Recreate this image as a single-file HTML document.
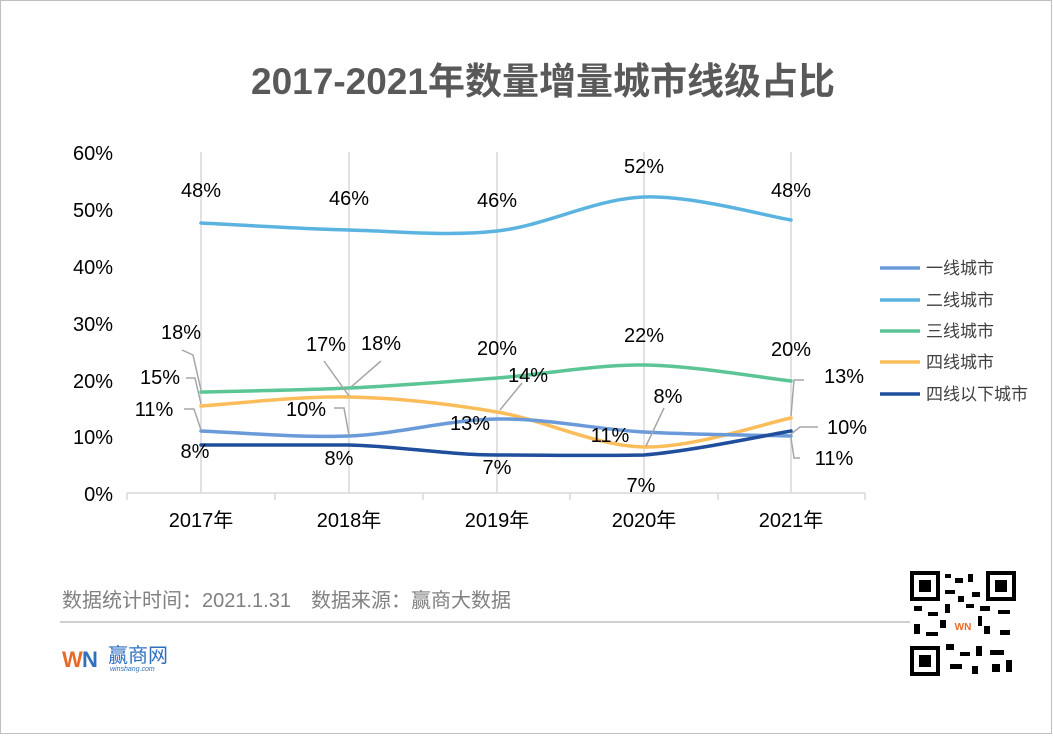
<!DOCTYPE html><html><head><meta charset="utf-8"><style>
body{margin:0;background:#fff}
svg text{font-family:"Liberation Sans","Noto Sans CJK SC",sans-serif}
</style></head><body>
<svg width="1053" height="735" xmlns="http://www.w3.org/2000/svg">
<rect x="0.5" y="0.5" width="1051" height="733" fill="#fff" stroke="#bfbfbf"/>
<text x="543" y="94" text-anchor="middle" font-size="37" font-weight="bold" fill="#595959">2017-2021年数量增量城市线级占比</text>
<g stroke="#d9d9d9" stroke-width="1.5">
<line x1="201" y1="152" x2="201" y2="493"/><line x1="349" y1="152" x2="349" y2="493"/><line x1="497" y1="152" x2="497" y2="493"/><line x1="644" y1="152" x2="644" y2="493"/><line x1="791" y1="152" x2="791" y2="493"/>
<line x1="127" y1="493" x2="865" y2="493"/>
<line x1="127" y1="493" x2="127" y2="500"/><line x1="275" y1="493" x2="275" y2="500"/><line x1="423" y1="493" x2="423" y2="500"/><line x1="570" y1="493" x2="570" y2="500"/><line x1="718" y1="493" x2="718" y2="500"/><line x1="865" y1="493" x2="865" y2="500"/>
</g>
<g font-size="20" fill="#000" text-anchor="end">
<text x="113" y="160">60%</text><text x="113" y="217">50%</text><text x="113" y="274">40%</text><text x="113" y="331">30%</text><text x="113" y="388">20%</text><text x="113" y="444">10%</text><text x="113" y="501">0%</text>
</g>
<g font-size="20" fill="#000" text-anchor="middle">
<text x="201" y="527">2017年</text><text x="349" y="527">2018年</text><text x="497" y="527">2019年</text><text x="644" y="527">2020年</text><text x="791" y="527">2021年</text>
</g>
<g fill="none" stroke-width="3.5" stroke-linecap="round">
<path stroke="#5bb4e0" d="M201,223 C225.7,224.2 299.7,228.7 349,230 C398.3,231.3 447.8,236.5 497,231 C546.2,225.5 595,198.8 644,197 C693,195.2 766.5,216.2 791,220"/>
<path stroke="#5cc596" d="M201,392 C225.7,391.3 299.7,390.3 349,388 C398.3,385.7 447.8,381.8 497,378 C546.2,374.2 595,364.5 644,365 C693,365.5 766.5,378.3 791,381"/>
<path stroke="#fbbd5a" d="M201,406 C225.7,404.5 299.7,396 349,397 C398.3,398 447.8,403.7 497,412 C546.2,420.3 595,446 644,447 C693,448 766.5,422.8 791,418"/>
<path stroke="#6a9ad8" d="M201,431 C225.7,431.8 299.7,438 349,436 C398.3,434 447.8,419.7 497,419 C546.2,418.3 595,429.2 644,432 C693,434.8 766.5,435.3 791,436"/>
<path stroke="#1f4e9c" d="M201,445 C250,445 300,445 349,445 C398,446 447,455 497,455 C546,455 595,456 644,455 C693,451 766.5,435 791,431"/>
</g>
<g stroke="#a6a6a6" stroke-width="1.5" fill="none">
<polyline points="182,350 193,355 201,390"/>
<polyline points="186,378 195,378 201,404"/>
<polyline points="184,409 194,409 201,430"/>
<polyline points="324,361 349,396"/>
<polyline points="381,361 351,387"/>
<polyline points="334,408 344,408 349,435"/>
<polyline points="522,383 500,410"/>
<polyline points="664,408 646,446"/>
<polyline points="804,380 794,380 791,416"/>
<polyline points="818,427 800,427 791,434"/>
<polyline points="800,458 794,458 791,438"/>
</g>
<g font-size="20" fill="#000" text-anchor="middle">
<text x="201" y="197">48%</text><text x="349" y="205">46%</text><text x="497" y="207">46%</text><text x="644" y="173">52%</text><text x="791" y="197">48%</text>
<text x="181" y="339">18%</text><text x="160" y="384">15%</text><text x="154" y="416">11%</text><text x="195" y="458">8%</text>
<text x="326" y="351">17%</text><text x="381" y="350">18%</text><text x="306" y="416">10%</text><text x="339" y="465">8%</text>
<text x="497" y="355">20%</text><text x="528" y="382">14%</text><text x="470" y="430">13%</text><text x="497" y="474">7%</text>
<text x="644" y="342">22%</text><text x="668" y="403">8%</text><text x="610" y="442">11%</text><text x="641" y="492">7%</text>
<text x="791" y="356">20%</text><text x="844" y="383">13%</text><text x="847" y="434">10%</text><text x="834" y="465">11%</text>
</g>
<g font-size="17" fill="#404040">
<line x1="880" y1="268" x2="920" y2="268" stroke="#6a9ad8" stroke-width="3.5"/><text x="926" y="274">一线城市</text>
<line x1="880" y1="300" x2="920" y2="300" stroke="#5bb4e0" stroke-width="3.5"/><text x="926" y="306">二线城市</text>
<line x1="880" y1="331" x2="920" y2="331" stroke="#5cc596" stroke-width="3.5"/><text x="926" y="337">三线城市</text>
<line x1="880" y1="362" x2="920" y2="362" stroke="#fbbd5a" stroke-width="3.5"/><text x="926" y="368">四线城市</text>
<line x1="880" y1="394" x2="920" y2="394" stroke="#1f4e9c" stroke-width="3.5"/><text x="926" y="400">四线以下城市</text>
</g>
<text x="62" y="607" font-size="20" fill="#808080">数据统计时间：2021.1.31　数据来源：赢商大数据</text>
<line x1="60" y1="622" x2="1000" y2="622" stroke="#d0d0d0" stroke-width="2"/>
<text x="62" y="667" font-size="22" font-weight="bold" fill="#e86a2a">W</text>
<text x="82" y="667" font-size="22" font-weight="bold" fill="#2f6fc0">N</text>
<text x="108" y="662" font-size="20" fill="#2f6fc0">赢商网</text>
<text x="110" y="671" font-size="7" fill="#2f6fc0" font-style="italic">winshang.com</text>
<g>
<rect x="910" y="572" width="106" height="104" fill="#fff"/>
<rect x="912" y="573" width="26" height="26" fill="none" stroke="#000" stroke-width="4"/><rect x="919" y="580" width="12" height="12"/>
<rect x="988" y="573" width="26" height="26" fill="none" stroke="#000" stroke-width="4"/><rect x="995" y="580" width="12" height="12"/>
<rect x="912" y="648" width="26" height="26" fill="none" stroke="#000" stroke-width="4"/><rect x="919" y="655" width="12" height="12"/>
<g fill="#000">
<rect x="945" y="574" width="6" height="4"/><rect x="955" y="578" width="8" height="5"/><rect x="968" y="574" width="5" height="8"/><rect x="945" y="590" width="10" height="4"/><rect x="972" y="592" width="8" height="5"/>
<rect x="914" y="606" width="8" height="5"/><rect x="928" y="612" width="10" height="4"/><rect x="945" y="604" width="5" height="9"/><rect x="980" y="606" width="10" height="5"/><rect x="998" y="610" width="12" height="4"/>
<rect x="914" y="624" width="6" height="10"/><rect x="926" y="632" width="12" height="4"/><rect x="984" y="626" width="6" height="8"/><rect x="1000" y="630" width="10" height="5"/>
<rect x="946" y="644" width="8" height="6"/><rect x="960" y="652" width="10" height="4"/><rect x="976" y="646" width="6" height="10"/><rect x="990" y="650" width="14" height="5"/><rect x="950" y="664" width="12" height="5"/><rect x="972" y="666" width="6" height="8"/><rect x="992" y="664" width="8" height="8"/><rect x="1006" y="660" width="6" height="12"/>
<rect x="958" y="596" width="6" height="6"/><rect x="966" y="604" width="8" height="4"/><rect x="940" y="620" width="6" height="8"/><rect x="978" y="616" width="4" height="10"/>
</g>
<rect x="950" y="612" width="26" height="26" fill="#fff"/><text x="963" y="630" font-size="10" text-anchor="middle" fill="#e86a2a" font-weight="bold">WN</text>
</g>
</svg>
</body></html>
